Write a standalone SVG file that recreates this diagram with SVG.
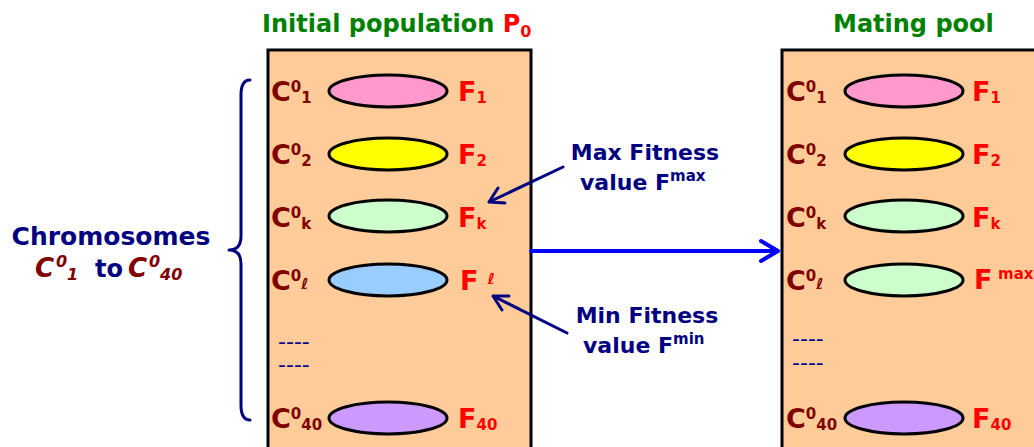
<svg xmlns="http://www.w3.org/2000/svg" width="1034" height="447" viewBox="0 0 1034 447">
<style>
text{font-family:"DejaVu Sans","Verdana",sans-serif;font-weight:bold}
.box{fill:#FFCC99;stroke:#000;stroke-width:3}
.ell{stroke:#000;stroke-width:3}
.c{fill:#800000;font-size:27px}
.f{fill:#FF0000;font-size:27px}
.s{font-size:15px}
.title{fill:#008000;font-size:24px}
.navy{fill:#000080}
.lbl{fill:#000080;font-size:22px}
.dash{fill:#000080;font-size:22px;font-weight:normal}
.ci{fill:#800000;font-style:italic}
.conn{fill:none;stroke-linecap:round;stroke-linejoin:round}
</style>
<g id="title-left"><text class="title" x="262" y="32">Initial population <tspan fill="#FF0000">P</tspan><tspan fill="#FF0000" font-size="16px" dy="5">0</tspan></text></g>
<g id="title-right"><text class="title" x="833" y="32">Mating pool</text></g>

<g id="population">
<rect class="box" x="268" y="50" width="263" height="410"/>
<ellipse class="ell" cx="388" cy="91" rx="59" ry="16" fill="#FF99CC"/>
<ellipse class="ell" cx="388" cy="154" rx="59" ry="16" fill="#FFFF00"/>
<ellipse class="ell" cx="388" cy="216" rx="59" ry="16" fill="#CCFFCC"/>
<ellipse class="ell" cx="388" cy="280" rx="59" ry="16" fill="#99CCFF"/>
<ellipse class="ell" cx="388" cy="418" rx="59" ry="16" fill="#CC99FF"/>
<text class="c" x="271" y="101">C<tspan class="s" dy="-9">0</tspan><tspan class="s" dy="11">1</tspan></text>
<text class="c" x="271" y="164">C<tspan class="s" dy="-9">0</tspan><tspan class="s" dy="11">2</tspan></text>
<text class="c" x="271" y="227">C<tspan class="s" dy="-9">0</tspan><tspan class="s" dy="11">k</tspan></text>
<text class="c" x="271" y="290">C<tspan class="s" dy="-9">0</tspan><tspan class="s" dy="8" font-style="italic">ℓ</tspan></text>
<text class="c" x="271" y="428">C<tspan class="s" dy="-9">0</tspan><tspan class="s" dy="11">40</tspan></text>
<text class="f" x="458" y="101">F<tspan class="s" dy="2">1</tspan></text>
<text class="f" x="458" y="164">F<tspan class="s" dy="2">2</tspan></text>
<text class="f" x="458" y="227">F<tspan class="s" dy="2">k</tspan></text>
<text class="f" x="460" y="290">F <tspan class="s" dy="-6" font-style="italic">ℓ</tspan></text>
<text class="f" x="458" y="428">F<tspan class="s" dy="2">40</tspan></text>
<text class="dash" x="278" y="349">----</text>
<text class="dash" x="278" y="372">----</text>
</g>

<g id="mating-pool">
<rect class="box" x="782" y="50" width="270" height="410"/>
<ellipse class="ell" cx="904" cy="91" rx="59" ry="16" fill="#FF99CC"/>
<ellipse class="ell" cx="904" cy="154" rx="59" ry="16" fill="#FFFF00"/>
<ellipse class="ell" cx="904" cy="216" rx="59" ry="16" fill="#CCFFCC"/>
<ellipse class="ell" cx="904" cy="280" rx="59" ry="16" fill="#CCFFCC"/>
<ellipse class="ell" cx="904" cy="418" rx="59" ry="16" fill="#CC99FF"/>
<text class="c" x="786" y="101">C<tspan class="s" dy="-9">0</tspan><tspan class="s" dy="11">1</tspan></text>
<text class="c" x="786" y="164">C<tspan class="s" dy="-9">0</tspan><tspan class="s" dy="11">2</tspan></text>
<text class="c" x="786" y="227">C<tspan class="s" dy="-9">0</tspan><tspan class="s" dy="11">k</tspan></text>
<text class="c" x="786" y="290">C<tspan class="s" dy="-9">0</tspan><tspan class="s" dy="8" font-style="italic">ℓ</tspan></text>
<text class="c" x="786" y="428">C<tspan class="s" dy="-9">0</tspan><tspan class="s" dy="11">40</tspan></text>
<text class="f" x="972" y="101">F<tspan class="s" dy="2">1</tspan></text>
<text class="f" x="972" y="164">F<tspan class="s" dy="2">2</tspan></text>
<text class="f" x="972" y="227">F<tspan class="s" dy="2">k</tspan></text>
<text class="f" x="974" y="289">F<tspan class="s" x="998" dy="-10">max</tspan></text>
<text class="f" x="972" y="428">F<tspan class="s" dy="2">40</tspan></text>
<text class="dash" x="792" y="346">----</text>
<text class="dash" x="792" y="370">----</text>
</g>

<g id="chromosomes-label">
<text class="navy" x="111" y="245" text-anchor="middle" style="font-size:25px">Chromosomes</text>
<text x="35" y="277" style="font-size:26px"><tspan class="ci">C</tspan><tspan class="ci" x="56" y="267" style="font-size:16px">0</tspan><tspan class="ci" x="67" y="280" style="font-size:16px">1</tspan><tspan class="navy" x="95" y="277" style="font-size:24px">to</tspan><tspan class="ci" x="128" y="277">C</tspan><tspan class="ci" x="149" y="267" style="font-size:16px">0</tspan><tspan class="ci" x="160" y="280" style="font-size:16px">40</tspan></text>
</g>

<g id="max-label"><text class="lbl" x="645" y="160" text-anchor="middle">Max Fitness</text><text class="lbl" x="580" y="190">value F<tspan class="s" dy="-9">max</tspan></text></g>
<g id="min-label"><text class="lbl" x="647" y="323" text-anchor="middle">Min Fitness</text><text class="lbl" x="583" y="353">value F<tspan class="s" dy="-9">min</tspan></text></g>

<g id="connectors">
<path class="conn" d="M250,80 Q241,80 241,95 L241,236 Q241,250 229,250 Q241,250 241,264 L241,405 Q241,420 250,420" stroke="#000080" stroke-width="3"/>
<path class="conn" d="M563,167 L489,202 M505,203 L489,202 L498,188" stroke="#000080" stroke-width="3"/>
<path class="conn" d="M567,333 L493,296 M509,296 L493,296 L502,310" stroke="#000080" stroke-width="3"/>
<path class="conn" d="M531,251 L778,251 M761,241 L778,251 L761,261" stroke="#0000FF" stroke-width="4"/>
</g>
</svg>
